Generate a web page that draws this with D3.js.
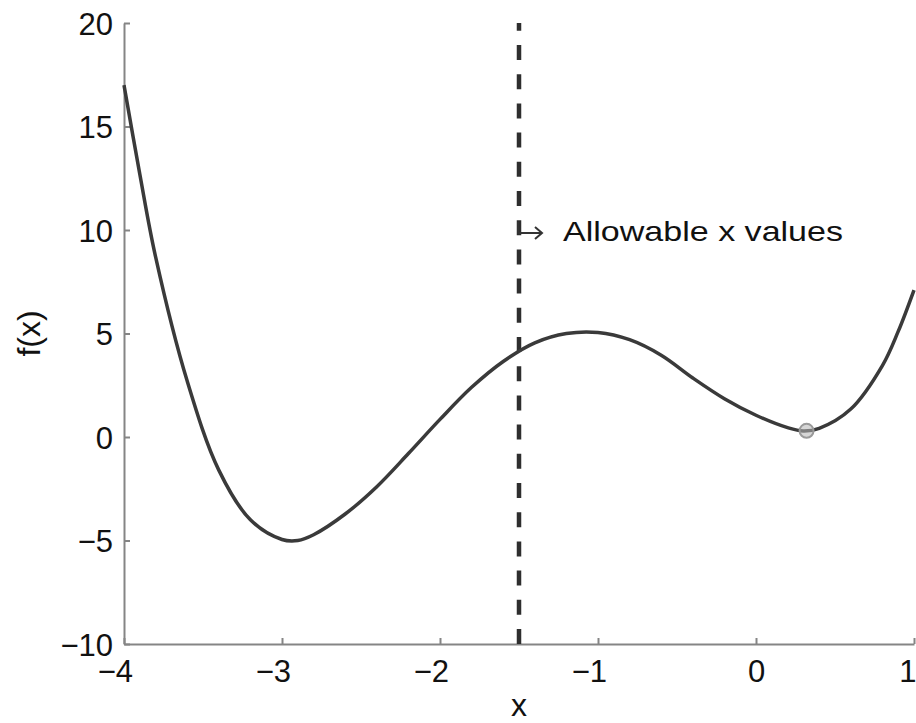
<!DOCTYPE html>
<html>
<head>
<meta charset="utf-8">
<script src="https://cdn.jsdelivr.net/npm/d3@7"></script>
<style>
  html, body { margin: 0; padding: 0; background: #fff; }
  svg { display: block; }
  text { font-family: "Liberation Sans", Arial, Helvetica, sans-serif; fill: #111; }
</style>
</head>
<body>
<svg id="chart" width="916" height="723"></svg>
<script>
// f(x) sampled along the curve
const xs = [-4.0, -3.9, -3.8, -3.6, -3.4, -3.2, -3.0, -2.9, -2.8, -2.6, -2.4, -2.2,
            -2.0, -1.8, -1.6, -1.4, -1.2, -1.0, -0.8, -0.6, -0.4, -0.2,
             0.0,  0.2,  0.3,  0.4,  0.6,  0.8,  0.9,  1.0];
const fx = [17.0, 12.7, 8.7, 2.7, -1.6, -4.0, -4.95, -5.0, -4.72, -3.72, -2.4, -0.8,
            0.85, 2.4, 3.65, 4.55, 5.0, 5.05, 4.7, 3.95, 2.85, 1.85,
            1.05, 0.45, 0.29, 0.42, 1.35, 3.45, 5.1, 7.1];

// local minimum marker
const minPoint = [0.32, 0.3];
// lower bound of the allowable region
const boundX = -1.5;
const annotation = "Allowable x values";
const annotationY = 10;

const xTicks = [-4, -3, -2, -1, 0, 1];
const yTicks = [-10, -5, 0, 5, 10, 15, 20];

const svg = d3.select("#chart");
const x = d3.scaleLinear().domain([-4, 1]).range([124, 914]);
const y = d3.scaleLinear().domain([-10, 20]).range([644, 23]);
const fmt = d3.format("d");

const axisColor = "#858585";

// y axis (ticks point inward)
const gy = svg.append("g").attr("transform", `translate(${x(-4)},0)`)
  .call(d3.axisLeft(y).tickValues(yTicks).tickFormat(fmt).tickSize(-6).tickSizeOuter(0).tickPadding(11));
gy.select(".domain").attr("stroke", axisColor).attr("stroke-width", 2);
gy.selectAll(".tick line").attr("stroke", axisColor).attr("stroke-width", 2);
gy.selectAll(".tick text").attr("font-size", 31).attr("font-family", "Liberation Sans, Arial, sans-serif")
  .attr("fill", "#111").attr("dy", "0.36em");

// x axis
const gx = svg.append("g").attr("transform", `translate(0,${y(-10)})`)
  .call(d3.axisBottom(x).tickValues(xTicks).tickFormat(fmt).tickSize(-6).tickSizeOuter(0).tickPadding(16));
gx.select(".domain").attr("stroke", axisColor).attr("stroke-width", 2);
gx.selectAll(".tick line").attr("stroke", axisColor).attr("stroke-width", 2);
gx.selectAll(".tick text").attr("font-size", 31).attr("font-family", "Liberation Sans, Arial, sans-serif")
  .attr("fill", "#111")
  .attr("text-anchor", d => (d < 0 || d === 1) ? "end" : "middle")
  .attr("x", d => d < 0 ? 8.5 : (d === 1 ? 2 : 0));

// axis titles
svg.append("text").attr("x", (x(-4) + x(1)) / 2).attr("y", 716)
  .attr("text-anchor", "middle").attr("font-size", 32).text("x");
svg.append("text").attr("transform", `translate(40,${(y(-10) + y(20)) / 2}) rotate(-90)`)
  .attr("text-anchor", "middle").attr("font-size", 32).text("f(x)");

// boundary line, dashed from the bottom up
svg.append("line")
  .attr("x1", x(boundX)).attr("x2", x(boundX))
  .attr("y1", y(-10)).attr("y2", y(20))
  .attr("stroke", "#2e2e2e").attr("stroke-width", 4.5)
  .attr("stroke-dasharray", "15,14.2");

// function curve
const line = d3.line().x(d => x(d[0])).y(d => y(d[1])).curve(d3.curveCatmullRom.alpha(0.5));
svg.append("path").datum(xs.map((v, i) => [v, fx[i]]))
  .attr("d", line).attr("fill", "none")
  .attr("stroke", "#3a3a3a").attr("stroke-width", 3.5).attr("stroke-linejoin", "round");

// minimum marker
svg.append("circle").attr("cx", x(minPoint[0])).attr("cy", y(minPoint[1])).attr("r", 7)
  .attr("fill", "#b5b5b5").attr("fill-opacity", 0.55)
  .attr("stroke", "#9a9a9a").attr("stroke-width", 2);

// annotation arrow and label
const ay = y(annotationY) + 3;
const ax = x(boundX) - 1;
svg.append("path")
  .attr("d", `M${ax},${ay - 11} V${ay} H${ax + 24}`)
  .attr("fill", "none").attr("stroke", "#333").attr("stroke-width", 2);
svg.append("path")
  .attr("d", `M${ax + 17},${ay - 6} L${ax + 24},${ay} L${ax + 17},${ay + 6}`)
  .attr("fill", "none").attr("stroke", "#333").attr("stroke-width", 2);
svg.append("text").attr("x", 563).attr("y", ay + 8)
  .attr("font-size", 28).attr("textLength", 280).attr("lengthAdjust", "spacingAndGlyphs")
  .text(annotation);
</script>
</body>
</html>
